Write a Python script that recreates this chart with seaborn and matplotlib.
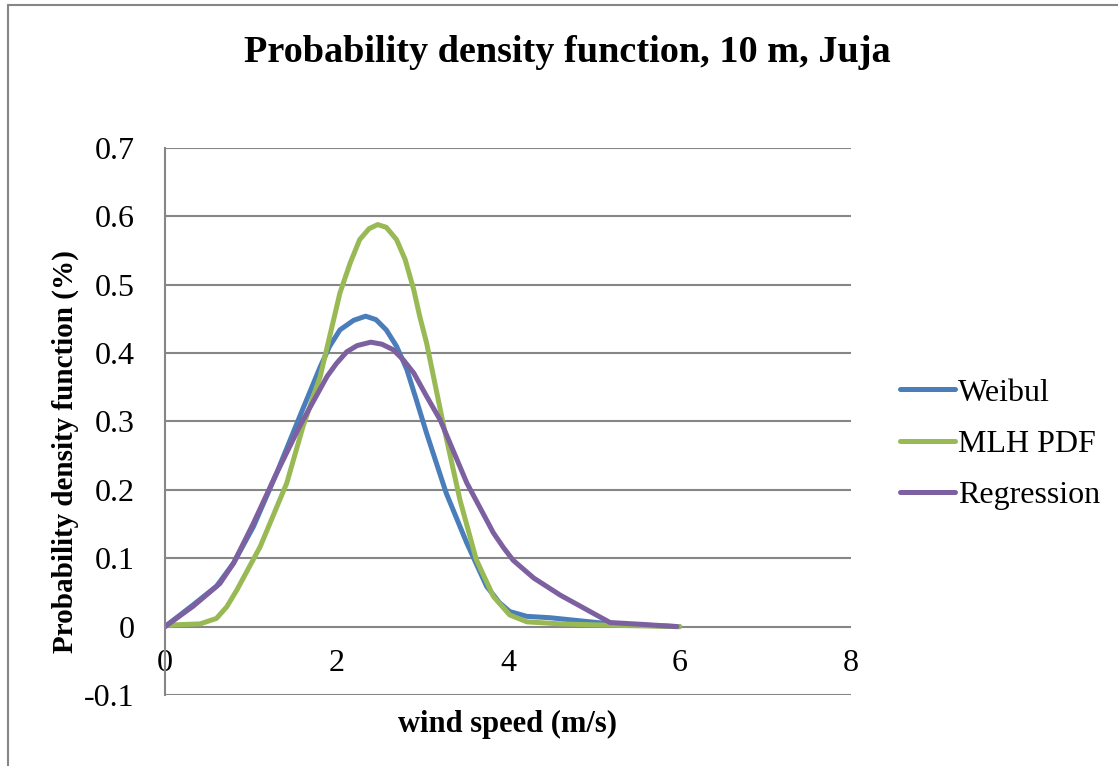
import numpy as np
import pandas as pd
import matplotlib
matplotlib.use("Agg")
import matplotlib.pyplot as plt
from matplotlib.lines import Line2D
import seaborn as sns

# values
weibul_x = [0, 0.33, 0.60, 0.80, 1.03, 1.30, 1.57, 1.81, 1.92, 2.04, 2.20, 2.34, 2.46, 2.58, 2.70, 2.82,
            2.93, 3.05, 3.28, 3.52, 3.75, 3.90, 4.02, 4.22, 4.49, 4.80, 5.19, 5.60, 6.00]
weibul_y = [0, 0.032, 0.059, 0.093, 0.146, 0.224, 0.307, 0.380, 0.410, 0.434, 0.448, 0.454, 0.449, 0.434, 0.410, 0.376,
            0.332, 0.283, 0.195, 0.122, 0.059, 0.035, 0.022, 0.015, 0.013, 0.009, 0.004, 0.002, 0.0]

mlh_x = [0, 0.20, 0.41, 0.60, 0.72, 0.84, 1.11, 1.42, 1.61, 1.81, 2.04, 2.16, 2.27, 2.38, 2.48, 2.58, 2.70, 2.80,
         2.90, 2.97, 3.05, 3.25, 3.44, 3.63, 3.83, 4.02, 4.22, 4.61, 5.19, 6.00]
mlh_y = [0.002, 0.003, 0.004, 0.012, 0.029, 0.054, 0.117, 0.210, 0.293, 0.366, 0.488, 0.532, 0.566, 0.582, 0.588, 0.584,
         0.566, 0.537, 0.493, 0.454, 0.415, 0.293, 0.185, 0.098, 0.044, 0.017, 0.007, 0.004, 0.002, 0.0]

regr_x = [0, 0.33, 0.64, 0.80, 1.03, 1.30, 1.57, 1.89, 2.00, 2.12, 2.24, 2.40, 2.53, 2.66, 2.78, 2.90, 3.05, 3.21,
          3.52, 3.83, 3.95, 4.06, 4.30, 4.61, 4.90, 5.19, 5.60, 5.97]
regr_y = [0, 0.030, 0.063, 0.093, 0.151, 0.224, 0.293, 0.366, 0.385, 0.402, 0.411, 0.416, 0.413, 0.405, 0.390, 0.371,
          0.337, 0.302, 0.210, 0.137, 0.115, 0.097, 0.071, 0.046, 0.026, 0.006, 0.003, 0.0]

series_names = ["Weibul", "MLH PDF", "Regression"]
series_colors = ["#4A7EBB", "#98B954", "#7D60A0"]

data = pd.concat([
    pd.DataFrame({"x": weibul_x, "y": weibul_y, "series": "Weibul"}),
    pd.DataFrame({"x": mlh_x, "y": mlh_y, "series": "MLH PDF"}),
    pd.DataFrame({"x": regr_x, "y": regr_y, "series": "Regression"}),
], ignore_index=True)

sns.set_theme(style="white")
plt.rcParams['font.family'] = ['Liberation Serif', 'DejaVu Serif']
plt.rcParams['text.color'] = 'black'
plt.rcParams['axes.labelcolor'] = 'black'

fig = plt.figure(figsize=(11.18, 7.66), dpi=100)
ax = fig.add_axes([0.1476, 0.0927, 0.7612 - 0.1476, 0.8068 - 0.0927])

sns.lineplot(data=data, x="x", y="y", hue="series", hue_order=series_names,
             palette=series_colors, linewidth=3.6, ax=ax, legend=False,
             estimator=None, sort=False)
for ln in ax.get_lines():
    ln.set_solid_joinstyle("round")
    ln.set_solid_capstyle("round")

ax.set_xlim(0, 8)
ax.set_ylim(-0.1, 0.7)
ax.set_xticks([0, 2, 4, 6, 8])
ax.set_yticks(np.round(np.arange(-0.1, 0.71, 0.1), 1))
ax.set_yticklabels(["-0.1", "0", "0.1", "0.2", "0.3", "0.4", "0.5", "0.6", "0.7"])
ax.grid(axis="y", color="#868686", linewidth=1.5)
ax.grid(axis="x", visible=False)
ax.set_axisbelow(True)

for s in ["top", "right"]:
    ax.spines[s].set_visible(False)
ax.spines["left"].set_color("#868686")
ax.spines["left"].set_linewidth(1.5)
ax.spines["bottom"].set_position(("data", 0))
ax.spines["bottom"].set_color("none")

ax.tick_params(axis="both", length=0, labelsize=23, colors="black")
ax.tick_params(axis="x", pad=16)
ax.tick_params(axis="y", pad=22)

ax.set_xlabel("wind speed (m/s)", fontsize=22, fontweight="bold")
ax.set_ylabel("Probability density function (%)", fontsize=21, fontweight="bold")
ax.xaxis.set_label_coords(0.499, -0.027)
ax.yaxis.set_label_coords(-0.126, 0.445)

fig.text(0.507, 0.932, "Probability density function, 10 m, Juja", ha="center", va="center",
         fontsize=27.5, fontweight="bold")

handles = [Line2D([0], [0], color=c, linewidth=3.6, solid_capstyle="round") for c in series_colors]
fig.legend(handles, series_names, loc="center left", bbox_to_anchor=(0.7936, 0.42),
           frameon=False, fontsize=23, handlelength=1.72, handletextpad=0.1,
           labelspacing=0.69, borderaxespad=0)

# outer chart border (left and top edges visible)
bx = 7.5 / 1118
by = 1 - 5 / 766
fig.add_artist(Line2D([bx, bx], [0, by], transform=fig.transFigure, color="#868686", linewidth=1.5))
fig.add_artist(Line2D([bx, 1], [by, by], transform=fig.transFigure, color="#868686", linewidth=1.5))

fig.savefig("out.png", dpi=100)
